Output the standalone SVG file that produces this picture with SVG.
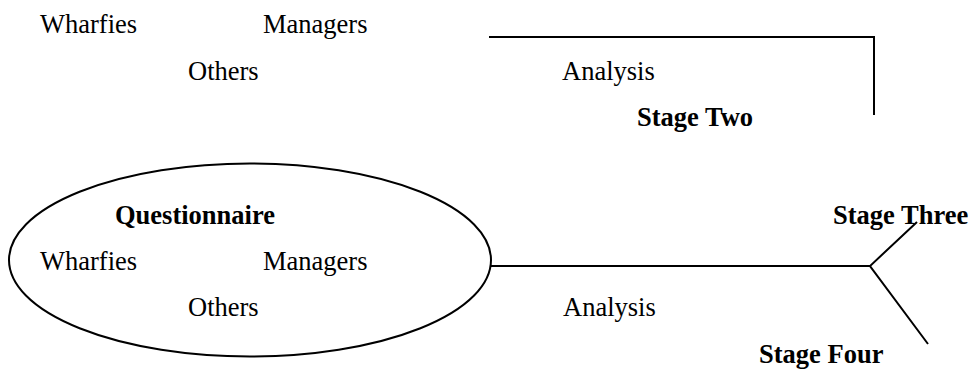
<svg xmlns="http://www.w3.org/2000/svg" width="972" height="370" viewBox="0 0 972 370">
<style>
text{font-family:"Liberation Serif","Times New Roman",serif;font-size:26.5px;fill:#000}
.b{font-weight:bold}
.ln{fill:none;stroke:#000;stroke-width:2}
</style>
<rect width="972" height="370" fill="#fff"/>
<g id="stage-one">
<text x="40" y="33">Wharfies</text>
<text x="263" y="33">Managers</text>
<text x="188" y="80">Others</text>
</g>
<g id="analysis-top"><text x="562" y="80">Analysis</text></g>
<g id="stage-two"><text class="b" x="637" y="126">Stage Two</text></g>
<g id="questionnaire">
<ellipse class="ln" cx="250" cy="260" rx="241" ry="96.5"/>
<text class="b" x="115" y="224">Questionnaire</text>
<text x="40" y="270">Wharfies</text>
<text x="263" y="270">Managers</text>
<text x="188" y="316">Others</text>
</g>
<g id="analysis-bottom"><text x="563" y="316">Analysis</text></g>
<g id="stage-three"><text class="b" x="833" y="224">Stage Three</text></g>
<g id="stage-four"><text class="b" x="759" y="363">Stage Four</text></g>
<g id="connectors">
<polyline class="ln" points="489,37 874,37 874,115"/>
<line class="ln" x1="491" y1="266" x2="870" y2="266"/>
<polyline class="ln" points="917,222 870,266 928,344"/>
</g>
</svg>
